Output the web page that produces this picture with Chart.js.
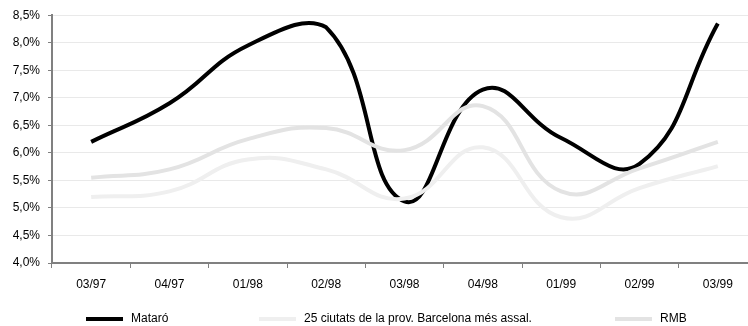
<!DOCTYPE html>
<html>
<head>
<meta charset="utf-8">
<script src="https://cdn.jsdelivr.net/npm/chart.js"></script>
<style>
  html, body { margin: 0; padding: 0; background: #fff; }
  #wrap { position: relative; width: 748px; height: 326px; overflow: hidden; }
  #chart { position: absolute; left: 0; top: 0; }
  .key { position: absolute; top: 311px; height: 14px; line-height: 14px; white-space: nowrap;
         font: 12px 'Liberation Sans Narrow', 'Arial Narrow', sans-serif; color: #000; }
  .key i { position: absolute; left: 0; top: 6px; width: 37px; height: 4px; }
  .key span { position: absolute; left: 45px; top: 0; }
</style>
</head>
<body>
<div id="wrap">
  <canvas id="chart" width="772" height="326"></canvas>
</div>
<script>
'use strict'
var labels = ['03/97', '04/97', '01/98', '02/98', '03/98', '04/98', '01/99', '02/99', '03/99'];
var mataro = [6.20, 6.90, 7.95, 8.28, 5.12, 7.15, 6.27, 5.80, 8.35];
var ciutats25 = [5.20, 5.30, 5.88, 5.70, 5.17, 6.10, 4.83, 5.36, 5.76];
var rmb = [5.55, 5.70, 6.25, 6.45, 6.05, 6.85, 5.30, 5.72, 6.20];

var font = { family: "'Liberation Sans Narrow', 'Arial Narrow', sans-serif", size: 12 };

var datasets = [{
        label: 'Mataró',
        data: mataro,
        borderColor: '#000000',
        order: 3
    }, {
        label: '25 ciutats de la prov. Barcelona més assal.',
        data: ciutats25,
        borderColor: '#efefef',
        order: 2
    }, {
        label: 'RMB',
        data: rmb,
        borderColor: '#e3e3e3',
        order: 1
    }];

var chartArea = document.getElementById('chart');
var chart = new Chart(chartArea, {
    type: 'line',
    data: { labels: labels, datasets: datasets },
    options: {
        responsive: false,
        animation: false,
        devicePixelRatio: 1,
        layout: { padding: { top: 15, right: 15, bottom: 23, left: 0 } },
        plugins: { legend: { display: false }, tooltip: { enabled: false } },
        elements: {
            point: { radius: 0 },
            line: { tension: 0.45, borderWidth: 4, fill: false }
        },
        scales: {
            x: {
                offset: true,
                grid: { offset: true, drawOnChartArea: false, tickLength: 5, tickColor: '#808080' },
                border: { color: '#808080', width: 2 },
                ticks: { color: '#000', font: font, padding: 9, maxRotation: 0, autoSkip: false },
                afterFit: function (s) { s.height = 40; }
            },
            y: {
                min: 4,
                max: 8.5,
                grid: { color: '#e9e9e9', tickLength: 4, tickColor: '#808080' },
                border: { color: '#808080', width: 2 },
                ticks: {
                    stepSize: 0.5,
                    color: '#000',
                    font: font,
                    padding: 8,
                    callback: function (v) { return v.toFixed(1).replace('.', ',') + '%'; }
                },
                afterFit: function (s) { s.width = 52; }
            }
        }
    }
});

// legend row under the axis
var keyLeft = [86, 259, 615];
var wrap = document.getElementById('wrap');
datasets.forEach(function (ds, i) {
    var key = document.createElement('div');
    key.className = 'key';
    key.style.left = keyLeft[i] + 'px';
    var swatch = document.createElement('i');
    swatch.style.background = ds.borderColor;
    var text = document.createElement('span');
    text.textContent = ds.label;
    key.appendChild(swatch);
    key.appendChild(text);
    wrap.appendChild(key);
});
</script>
</body>
</html>
